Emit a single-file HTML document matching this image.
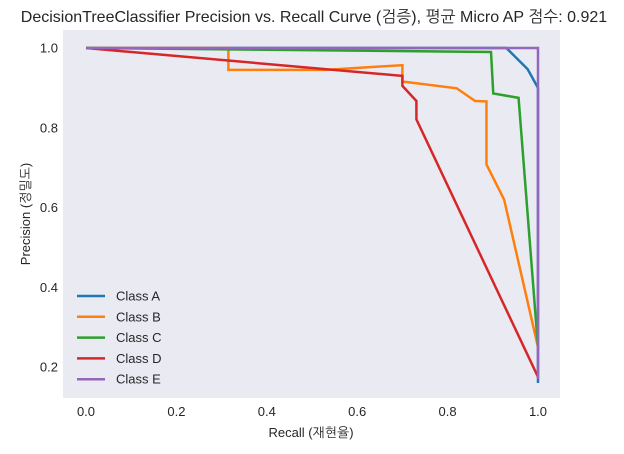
<!DOCTYPE html>
<html><head><meta charset="utf-8"><style>
body{margin:0;background:#fff;width:624px;height:449px;overflow:hidden}
text{font-family:"Liberation Sans","NanumGothic",sans-serif;fill:#262626}
</style></head><body>
<svg id="chart" width="624" height="449" xmlns="http://www.w3.org/2000/svg">
<text x="314" y="22" font-size="16" text-anchor="middle">DecisionTreeClassifier Precision vs. Recall Curve (검증), 평균 Micro AP 점수: 0.921</text>
<rect x="63" y="30" width="497" height="368" fill="#eaeaf2"/>
<g id="xt"></g><g id="yt"></g><g id="lines"></g><g id="legend"></g>
<text x="311" y="437" font-size="13" text-anchor="middle">Recall (재현율)</text>
<text transform="translate(30,214) rotate(-90)" font-size="13" text-anchor="middle">Precision (정밀도)</text>
</svg>
<script>
const seriesNames=["Class A","Class B","Class C","Class D","Class E"];
const colors=["#1f77b4","#ff7f0e","#2ca02c","#d62728","#9467bd"];
const recallA=[0,0.93,0.977,1,1];
const precA=[1,1,0.947,0.9,0.16];
const recallB=[0,0.315,0.315,0.53,0.70,0.70,0.82,0.861,0.886,0.886,0.925,1];
const precB=[1,1,0.945,0.945,0.957,0.916,0.899,0.867,0.866,0.708,0.62,0.25];
const recallC=[0,0.896,0.901,0.957,1];
const precC=[1,0.99,0.886,0.875,0.25];
const recallD=[0,0.70,0.70,0.731,0.731,1];
const precD=[1,0.93,0.905,0.867,0.821,0.175];
const recallE=[0,1,1];
const precE=[1,1,0.17];
const xTicks=[0,0.2,0.4,0.6,0.8,1.0];
const yTicks=[0.2,0.4,0.6,0.8,1.0];
const X=v=>86+v*452, Y=v=>48+(1-v)*398.75;
const ns="http://www.w3.org/2000/svg";
const mk=(t,a,p)=>{const e=document.createElementNS(ns,t);for(const k in a)e.setAttribute(k,a[k]);p.appendChild(e);return e;};
const xt=document.getElementById('xt'),yt=document.getElementById('yt');
xTicks.forEach(v=>{const t=mk('text',{x:X(v),y:416,'font-size':13,'text-anchor':'middle'},xt);t.textContent=v.toFixed(1);

});
yTicks.forEach(v=>{const t=mk('text',{x:58,y:Y(v)+4.5,'font-size':13,'text-anchor':'end'},yt);t.textContent=v.toFixed(1);

});
const R=[recallA,recallB,recallC,recallD,recallE],P=[precA,precB,precC,precD,precE];
const lg=document.getElementById('lines');
R.forEach((r,i)=>{const pts=r.map((x,j)=>X(x)+','+Y(P[i][j])).join(' ');
const l=mk('polyline',{points:pts,fill:'none',stroke:colors[i],'stroke-width':2.5,'stroke-linejoin':'miter'},lg);

});
const leg=document.getElementById('legend');
seriesNames.forEach((n,i)=>{const y=296+i*20.8;
const ln=mk('line',{x1:77,x2:105,y1:y,y2:y,stroke:colors[i],'stroke-width':2.5},leg);


const t=mk('text',{x:116,y:y+4.5,'font-size':13},leg);t.textContent=n;

});
</script>
</body></html>
